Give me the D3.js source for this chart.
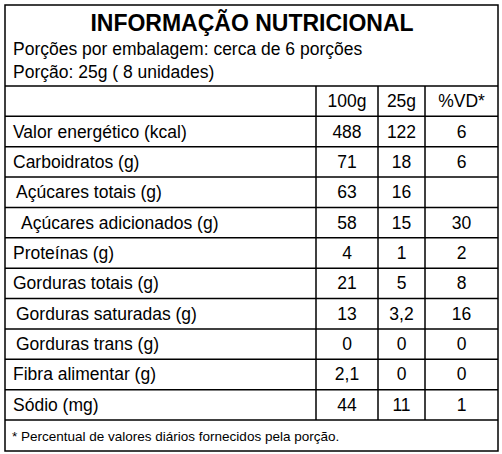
<!DOCTYPE html><html><head><meta charset="utf-8"><script src="https://cdn.jsdelivr.net/npm/d3@7"></script>
<style>body{margin:0;background:#fff}</style></head><body><svg id="c" width="502" height="454"></svg><script>
const labels=["Valor energético (kcal)","Carboidratos (g)","Açúcares totais (g)","Açúcares adicionados (g)","Proteínas (g)","Gorduras totais (g)","Gorduras saturadas (g)","Gorduras trans (g)","Fibra alimentar (g)","Sódio (mg)"];
const indent=[0,0,1,2,0,0,1,1,0,0];
const v100=["488","71","63","58","4","21","13","0","2,1","44"];
const v25=["122","18","16","15","1","5","3,2","0","0","11"];
const vd=["6","6","","30","2","8","16","0","0","1"];
const headers=["100g","25g","%VD*"];
const svg=d3.select("#c"),F="Liberation Sans, Arial, sans-serif";
const L=5,R=498,T=5,B=451;
const cols=[L,316,378,425,R];
const y=d3.scaleLinear().domain([0,11]).range([86,420]);
const line=(x1,y1,x2,y2)=>svg.append("line").attr("x1",x1).attr("y1",y1).attr("x2",x2).attr("y2",y2).attr("stroke","#000").attr("stroke-width",1.5);
svg.append("rect").attr("x",L).attr("y",T).attr("width",R-L).attr("height",B-T).attr("fill","none").attr("stroke","#000").attr("stroke-width",1.5);
d3.range(12).forEach(i=>line(L,y(i),R,y(i)));
[1,2,3].forEach(j=>line(cols[j],y(0),cols[j],y(11)));
const t=(x,yy,s,size,anchor,w)=>svg.append("text").attr("x",x).attr("y",yy).attr("font-family",F).attr("font-size",size).attr("text-anchor",anchor||"start").attr("font-weight",w||"normal").text(s);
t(252,31,"INFORMAÇÃO NUTRICIONAL",23,"middle","bold");
t(13,55,"Porções por embalagem: cerca de 6 porções",17.5);
t(13,78,"Porção: 25g ( 8 unidades)",17.5);
headers.forEach((h,j)=>t((cols[j+1]+cols[j+2])/2,(y(0)+y(1))/2+6,h,17.5,"middle"));
labels.forEach((l,i)=>{const yc=(y(i+1)+y(i+2))/2+6;
 t(13+[0,3,8][indent[i]],yc,l,17.5);
 [v100,v25,vd].forEach((a,j)=>t((cols[j+1]+cols[j+2])/2,yc,a[i],17.5,"middle"));});
t(12,441,"* Percentual de valores diários fornecidos pela porção.",13.5);
</script></body></html>
